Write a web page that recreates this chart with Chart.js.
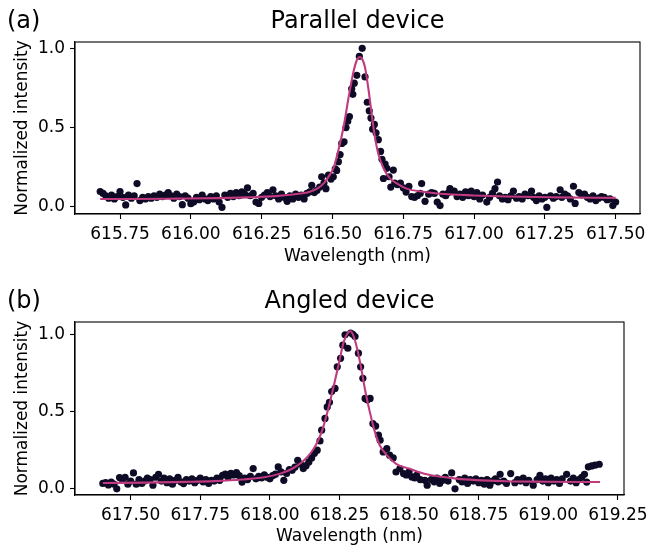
<!DOCTYPE html>
<html>
<head>
<meta charset="utf-8">
<script src="https://cdn.jsdelivr.net/npm/chart.js@4.4.1/dist/chart.umd.min.js"></script>
<style>
  html, body { margin: 0; padding: 0; background: #fff; }
  #wrap { position: relative; width: 647px; height: 550px; }
  canvas { position: absolute; left: 0; }
</style>
</head>
<body>
<div id="wrap">
  <canvas id="parallel" width="647" height="275" style="top:0"></canvas>
  <canvas id="angled" width="647" height="275" style="top:275px"></canvas>
</div>
<script>
// (a) parallel device: measured spectrum
const parallelWl = [
  615.68, 615.69, 615.70, 615.71, 615.72, 615.73, 615.74, 615.75, 615.76, 615.77,
  615.78, 615.79, 615.80, 615.81, 615.82, 615.83, 615.84, 615.85, 615.86, 615.87,
  615.88, 615.89, 615.90, 615.91, 615.92, 615.93, 615.94, 615.95, 615.96, 615.97,
  615.98, 615.99, 616.00, 616.01, 616.02, 616.03, 616.04, 616.05, 616.06, 616.07,
  616.08, 616.09, 616.10, 616.11, 616.12, 616.13, 616.14, 616.15, 616.16, 616.17,
  616.18, 616.19, 616.20, 616.21, 616.22, 616.23, 616.24, 616.25, 616.26, 616.27,
  616.28, 616.29, 616.30, 616.31, 616.32, 616.33, 616.34, 616.35, 616.36, 616.37,
  616.38, 616.39, 616.40, 616.41, 616.42, 616.427, 616.436, 616.445, 616.455, 616.462,
  616.470, 616.477, 616.486, 616.495, 616.503, 616.510, 616.515, 616.521, 616.527, 616.533,
  616.541, 616.548, 616.554, 616.560, 616.568, 616.572, 616.577, 616.586, 616.595, 616.605,
  616.615, 616.623, 616.630, 616.636, 616.642, 616.648, 616.654, 616.662, 616.670, 616.675,
  616.680, 616.686, 616.692, 616.700, 616.706, 616.715, 616.720, 616.730, 616.740, 616.750,
  616.76, 616.77, 616.78, 616.79, 616.80, 616.81, 616.815, 616.827, 616.84, 616.85,
  616.86, 616.87, 616.88, 616.89, 616.90, 616.91, 616.915, 616.93, 616.94, 616.95,
  616.96, 616.97, 616.98, 616.99, 617.00, 617.01, 617.02, 617.03, 617.045, 617.055,
  617.065, 617.074, 617.083, 617.09, 617.10, 617.11, 617.12, 617.13, 617.139, 617.15,
  617.16, 617.17, 617.18, 617.19, 617.203, 617.21, 617.22, 617.23, 617.24, 617.25,
  617.257, 617.27, 617.28, 617.29, 617.304, 617.31, 617.32, 617.33, 617.34, 617.351,
  617.357, 617.37, 617.38, 617.39, 617.40, 617.41, 617.42, 617.43, 617.44, 617.45,
  617.46, 617.47, 617.48, 617.49, 617.50
];
const parallelInt = [
  0.097, 0.085, 0.070, 0.055, 0.075, 0.050, 0.065, 0.097, 0.060, 0.012,
  0.075, 0.055, 0.070, 0.147, 0.040, 0.060, 0.050, 0.065, 0.055, 0.070,
  0.060, 0.080, 0.065, 0.075, 0.090, 0.070, 0.055, 0.080, 0.065, 0.014,
  0.070, 0.055, 0.020, 0.030, 0.060, 0.045, 0.075, 0.050, 0.040, 0.065,
  0.050, 0.070, 0.030, -0.003, 0.075, 0.060, 0.085, 0.065, 0.090, 0.070,
  0.095, 0.080, 0.120, 0.070, 0.085, 0.030, 0.022, 0.060, 0.075, 0.090,
  0.065, 0.108, 0.070, 0.050, 0.080, 0.060, 0.035, 0.070, 0.050, 0.080,
  0.060, 0.075, 0.050, 0.085, 0.095, 0.136, 0.090, 0.104, 0.125, 0.190,
  0.150, 0.115, 0.200, 0.175, 0.190, 0.240, 0.230, 0.285, 0.330, 0.400,
  0.410, 0.500, 0.540, 0.570, 0.745, 0.710, 0.780, 0.830, 0.950, 1.000,
  0.820, 0.660, 0.606, 0.560, 0.490, 0.520, 0.467, 0.424, 0.350, 0.300,
  0.179, 0.270, 0.243, 0.190, 0.125, 0.232, 0.150, 0.140, 0.150, 0.120,
  0.093, 0.130, 0.065, 0.060, 0.070, 0.085, 0.147, 0.035, 0.080, 0.090,
  0.085, 0.030, 0.008, 0.080, 0.070, 0.090, 0.115, 0.100, 0.065, 0.080,
  0.060, 0.095, 0.070, 0.100, 0.065, 0.090, 0.050, 0.075, 0.030, 0.060,
  0.085, 0.115, 0.157, 0.070, 0.050, 0.060, 0.045, 0.070, 0.100, 0.055,
  0.065, 0.050, 0.080, 0.070, 0.100, 0.060, 0.040, 0.070, 0.050, 0.060,
  -0.003, 0.070, 0.055, 0.065, 0.108, 0.060, 0.080, 0.070, 0.050, 0.130,
  0.022, 0.090, 0.075, 0.080, 0.060, 0.050, 0.070, 0.040, 0.055, 0.065,
  0.060, 0.045, 0.050, 0.008, 0.030
];
// (a) fitted curve
const parallelFitWl = [
  615.68, 615.80, 615.95, 616.10, 616.20, 616.30, 616.36, 616.42, 616.45, 616.47,
  616.49, 616.505, 616.52, 616.54, 616.556, 616.574, 616.586, 616.597, 616.606, 616.615,
  616.627, 616.639, 616.65, 616.662, 616.68, 616.703, 616.73, 616.762, 616.82, 616.88,
  617.00, 617.115, 617.30, 617.50
];
const parallelFitInt = [
  0.050, 0.050, 0.052, 0.055, 0.060, 0.068, 0.078, 0.095, 0.120, 0.150,
  0.200, 0.250, 0.350, 0.510, 0.680, 0.850, 0.925, 0.945, 0.930, 0.880,
  0.745, 0.580, 0.440, 0.335, 0.245, 0.180, 0.145, 0.115, 0.095, 0.083,
  0.072, 0.065, 0.060, 0.057
];
const parallelTicks = [615.75, 616.00, 616.25, 616.50, 616.75, 617.00, 617.25, 617.50];

// (b) angled device: measured spectrum
const angledWl = [
  617.40, 617.41, 617.42, 617.43, 617.44, 617.45, 617.46, 617.47, 617.48, 617.49,
  617.50, 617.51, 617.52, 617.53, 617.54, 617.55, 617.56, 617.57, 617.58, 617.59,
  617.60, 617.61, 617.62, 617.63, 617.64, 617.65, 617.66, 617.67, 617.68, 617.69,
  617.70, 617.71, 617.72, 617.73, 617.74, 617.75, 617.76, 617.77, 617.78, 617.79,
  617.80, 617.81, 617.82, 617.83, 617.84, 617.85, 617.86, 617.87, 617.88, 617.89,
  617.90, 617.91, 617.92, 617.93, 617.94, 617.95, 617.96, 617.97, 617.98, 617.99,
  618.00, 618.01, 618.02, 618.03, 618.04, 618.05, 618.06, 618.07, 618.08, 618.09,
  618.10, 618.11, 618.12, 618.13, 618.14, 618.15, 618.16, 618.17, 618.18, 618.186,
  618.198, 618.206, 618.214, 618.222, 618.234, 618.242, 618.254, 618.262, 618.270, 618.280,
  618.290, 618.298, 618.306, 618.318, 618.326, 618.334, 618.342, 618.350, 618.360, 618.370,
  618.380, 618.390, 618.396, 618.407, 618.420, 618.430, 618.443, 618.453, 618.467, 618.480,
  618.49, 618.50, 618.51, 618.52, 618.527, 618.54, 618.557, 618.565, 618.58, 618.59,
  618.60, 618.61, 618.62, 618.63, 618.64, 618.653, 618.665, 618.68, 618.69, 618.70,
  618.71, 618.72, 618.73, 618.74, 618.75, 618.76, 618.77, 618.78, 618.79, 618.80,
  618.81, 618.82, 618.827, 618.84, 618.85, 618.865, 618.88, 618.89, 618.90, 618.91,
  618.92, 618.93, 618.946, 618.96, 618.97, 618.98, 618.99, 619.00, 619.01, 619.02,
  619.03, 619.04, 619.05, 619.066, 619.08, 619.09, 619.10, 619.11, 619.12, 619.13,
  619.138, 619.144, 619.156, 619.168, 619.183
];
const angledInt = [
  0.035, 0.040, 0.025, 0.044, 0.030, 0.000, 0.073, 0.060, 0.075, 0.030,
  0.050, 0.103, 0.030, 0.060, 0.035, 0.050, 0.070, 0.060, 0.023, 0.075,
  0.094, 0.050, 0.070, 0.040, 0.065, 0.030, 0.055, 0.075, 0.045, 0.034,
  0.060, 0.050, 0.065, 0.040, 0.055, 0.070, 0.045, 0.060, 0.035, 0.055,
  0.050, 0.070, 0.055, 0.088, 0.095, 0.075, 0.100, 0.090, 0.105, 0.085,
  0.044, 0.070, 0.060, 0.080, 0.131, 0.065, 0.080, 0.070, 0.090, 0.075,
  0.065, 0.085, 0.095, 0.142, 0.110, 0.055, 0.100, 0.125, 0.120, 0.140,
  0.185, 0.160, 0.131, 0.150, 0.174, 0.200, 0.230, 0.250, 0.310, 0.380,
  0.456, 0.530, 0.560, 0.630, 0.650, 0.790, 0.845, 0.930, 0.997, 0.910,
  1.008, 1.000, 0.986, 0.878, 0.790, 0.716, 0.585, 0.575, 0.585, 0.423,
  0.406, 0.347, 0.315, 0.239, 0.260, 0.218, 0.200, 0.109, 0.131, 0.099,
  0.090, 0.110, 0.077, 0.070, 0.088, 0.060, 0.055, 0.023, 0.060, 0.045,
  0.070, 0.035, 0.055, 0.075, 0.050, 0.103, 0.000, 0.060, 0.045, 0.070,
  0.035, 0.060, 0.050, 0.065, 0.040, 0.055, 0.030, 0.060, 0.023, 0.050,
  0.065, 0.045, 0.094, 0.050, 0.035, 0.099, 0.040, 0.060, 0.050, 0.070,
  0.040, 0.055, 0.023, 0.060, 0.088, 0.050, 0.065, 0.040, 0.070, 0.050,
  0.060, 0.035, 0.065, 0.094, 0.050, 0.070, 0.040, 0.060, 0.075, 0.094,
  0.044, 0.142, 0.148, 0.153, 0.159
];
// (b) fitted curve
const angledFitWl = [
  617.40, 617.55, 617.70, 617.80, 617.90, 617.98, 618.04, 618.08, 618.12, 618.15,
  618.17, 618.19, 618.21, 618.23, 618.25, 618.265, 618.28, 618.29, 618.305, 618.325,
  618.342, 618.36, 618.377, 618.395, 618.42, 618.455, 618.50, 618.563, 618.67, 618.85,
  619.00, 619.186
];
const angledFitInt = [
  0.038, 0.040, 0.045, 0.050, 0.060, 0.075, 0.100, 0.130, 0.180, 0.240,
  0.300, 0.390, 0.520, 0.670, 0.830, 0.950, 1.010, 1.020, 0.965, 0.810,
  0.640, 0.490, 0.370, 0.280, 0.218, 0.160, 0.131, 0.094, 0.066, 0.049,
  0.046, 0.044
];
const angledTicks = [617.50, 617.75, 618.00, 618.25, 618.50, 618.75, 619.00, 619.25];

const intensityTicks = [0.0, 0.5, 1.0];

const FONT = 'DejaVu Sans';
const DOT = '#0e0b26';
const FIT = '#bf3a7e';

// box around the plot area plus panel title and letter
const panelFrame = {
  id: 'panelFrame',
  afterDatasetsDraw(chart) {
    const { ctx, chartArea: a } = chart;
    ctx.save();
    ctx.strokeStyle = '#000';
    ctx.lineWidth = 1.1;
    ctx.strokeRect(a.left, a.top, a.right - a.left, a.bottom - a.top);
    ctx.restore();
  },
  afterDraw(chart, args, opts) {
    const { ctx, chartArea: a } = chart;
    ctx.save();
    ctx.fillStyle = '#000';
    ctx.font = '24px "' + FONT + '"';
    ctx.textBaseline = 'alphabetic';
    ctx.textAlign = 'center';
    ctx.fillText(opts.title, (a.left + a.right) / 2, a.top - 14);
    ctx.textAlign = 'left';
    ctx.fillText(opts.tag, 7, a.top - 14);
    ctx.restore();
  }
};

function pairs(xs, ys) {
  return xs.map((x, i) => ({ x: x, y: ys[i] }));
}

function makePanel(id, p) {
  const axisGrid = { drawOnChartArea: false, drawTicks: true, tickLength: 5, tickWidth: 1.1, tickColor: '#000' };
  const axisBorder = { display: true, color: '#000', width: 1.1 };
  return new Chart(document.getElementById(id), {
    type: 'scatter',
    data: {
      datasets: [
        {
          type: 'line',
          data: pairs(p.fitWl, p.fitInt),
          borderColor: FIT,
          borderWidth: 2.1,
          pointRadius: 0,
          fill: false,
          cubicInterpolationMode: 'monotone'
        },
        {
          data: pairs(p.wl, p.int),
          backgroundColor: DOT,
          borderWidth: 0,
          pointRadius: 3.6
        }
      ]
    },
    options: {
      responsive: false,
      animation: false,
      events: [],
      layout: { padding: { left: 0, right: p.padRight, top: p.padTop, bottom: 0 } },
      plugins: {
        legend: { display: false },
        tooltip: { enabled: false },
        panelFrame: { title: p.title, tag: p.tag }
      },
      scales: {
        x: {
          type: 'linear',
          min: p.xMin,
          max: p.xMax,
          grid: axisGrid,
          border: axisBorder,
          afterBuildTicks: (s) => { s.ticks = p.ticks.map(v => ({ value: v })); },
          afterFit: (s) => { s.height = p.xAxisHeight; s.paddingLeft = 0; s.paddingRight = 0; },
          ticks: {
            color: '#000',
            font: { family: FONT, size: 17 },
            padding: 5,
            maxRotation: 0,
            autoSkip: false,
            callback: (v) => Number(v).toFixed(2)
          },
          title: {
            display: true,
            text: 'Wavelength (nm)',
            color: '#000',
            font: { family: FONT, size: 17 },
            padding: { top: 0, bottom: p.xTitlePad }
          }
        },
        y: {
          type: 'linear',
          min: p.yMin,
          max: p.yMax,
          grid: axisGrid,
          border: axisBorder,
          afterBuildTicks: (s) => { s.ticks = intensityTicks.map(v => ({ value: v })); },
          afterFit: (s) => { s.width = 75; s.paddingTop = 0; s.paddingBottom = 0; },
          ticks: {
            color: '#000',
            font: { family: FONT, size: 17 },
            padding: 5,
            callback: (v) => Number(v).toFixed(1)
          },
          title: {
            display: true,
            text: 'Normalized intensity',
            color: '#000',
            font: { family: FONT, size: 17 },
            padding: { top: 12, bottom: 0 }
          }
        }
      }
    },
    plugins: [panelFrame]
  });
}

makePanel('parallel', {
  wl: parallelWl, int: parallelInt,
  fitWl: parallelFitWl, fitInt: parallelFitInt,
  ticks: parallelTicks,
  xMin: 615.591, xMax: 617.586,
  yMin: -0.045, yMax: 1.04,
  padTop: 42, padRight: 7, xAxisHeight: 61, xTitlePad: 8,
  title: 'Parallel device', tag: '(a)'
});

makePanel('angled', {
  wl: angledWl, int: angledInt,
  fitWl: angledFitWl, fitInt: angledFitInt,
  ticks: angledTicks,
  xMin: 617.30, xMax: 619.272,
  yMin: -0.04, yMax: 1.08,
  padTop: 47, padRight: 23, xAxisHeight: 55, xTitlePad: 3,
  title: 'Angled device', tag: '(b)'
});
</script>
</body>
</html>
